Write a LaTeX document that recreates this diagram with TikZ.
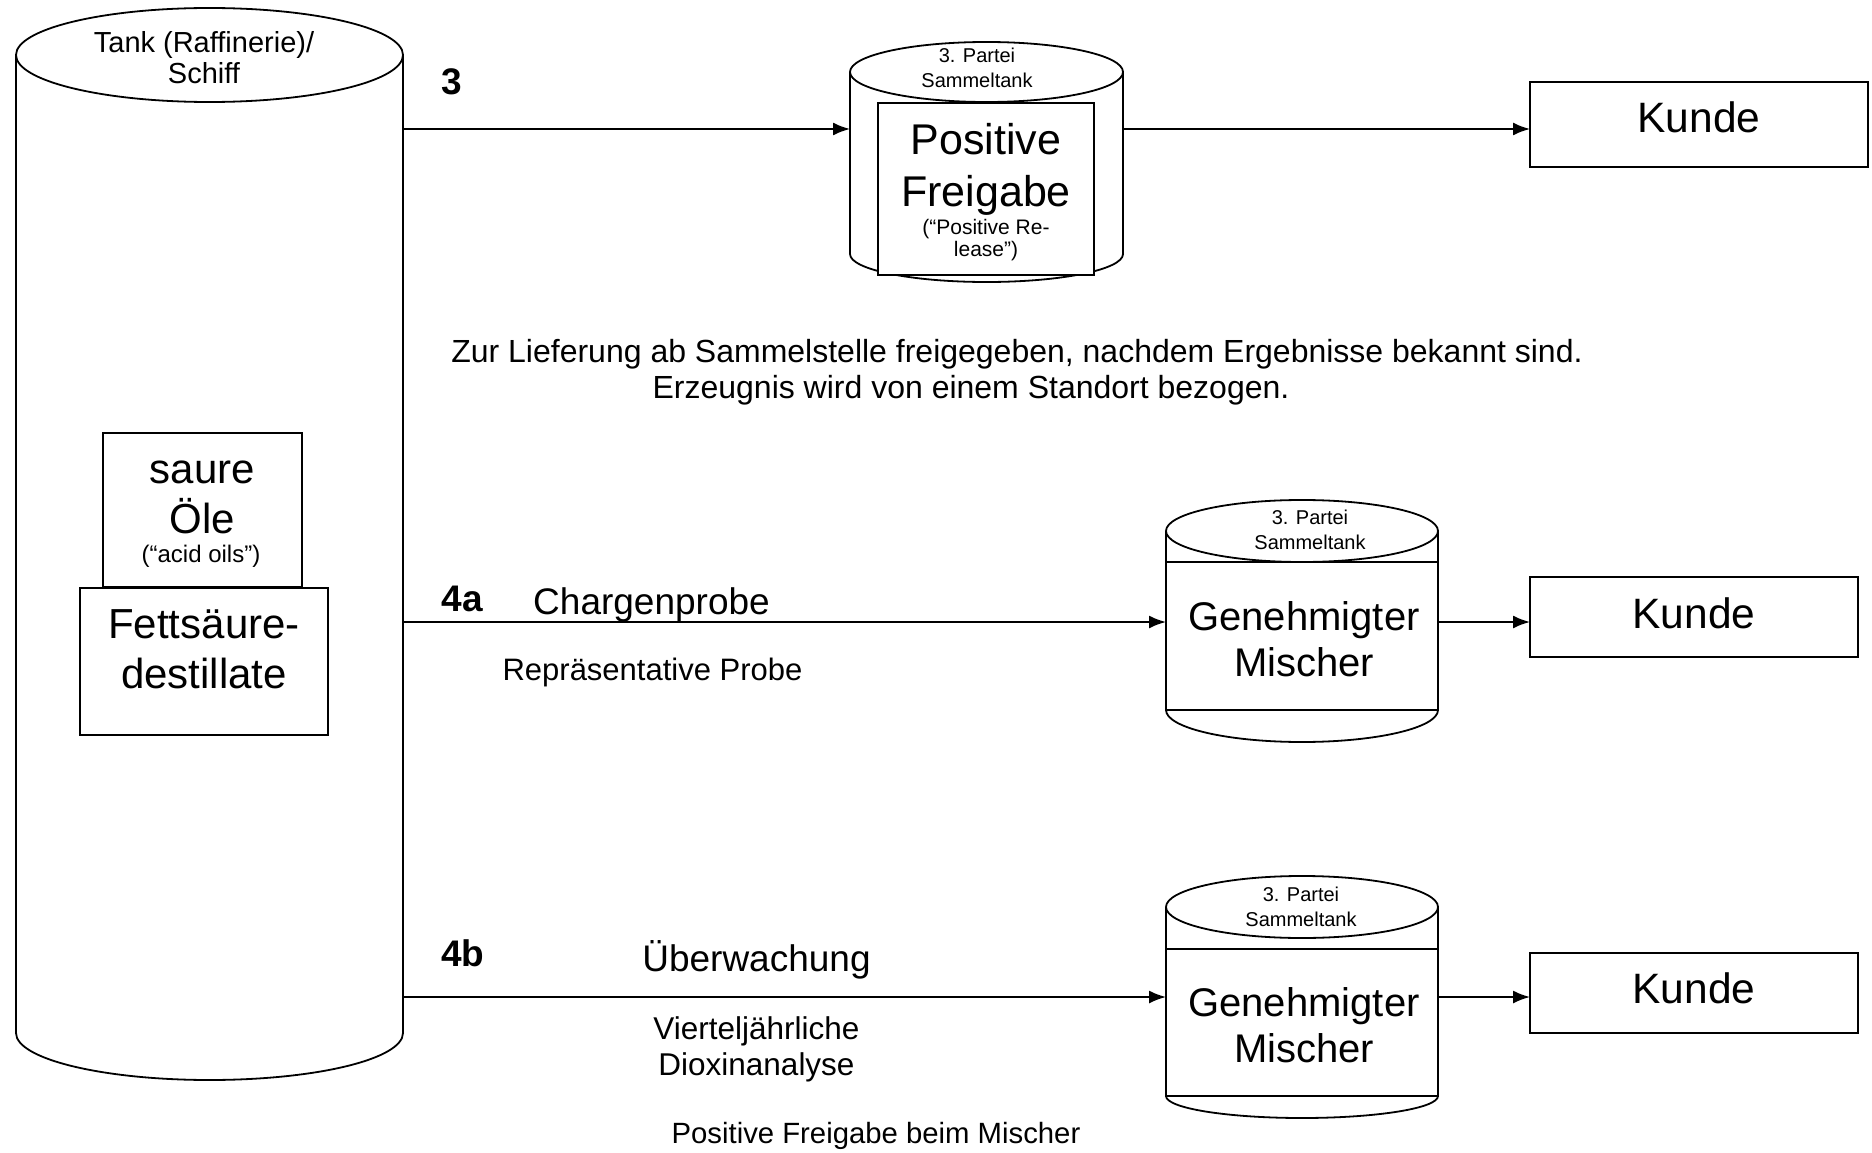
\documentclass[tikz,border=0pt]{standalone}
\usepackage{fontspec}
\setmainfont{Liberation Sans}
\usetikzlibrary{positioning,arrows.meta}
\tikzset{>={Latex[length=17pt,width=13pt]}}
\tikzset{
  body/.style={inner sep=0pt, outer sep=0pt},
  box/.style={draw, fill=white, inner sep=0pt, outer sep=0pt, align=center},
  txt/.style={inner sep=0pt, align=center},
  kunde/.style={box, minimum width=328, minimum height=80, font=\setfs{42.5}{48}, text height=30pt},
}
\newcommand{\setfs}[2]{\fontsize{#1}{#2}\selectfont}

\begin{document}
\begin{tikzpicture}[x=1pt, y=-1pt, line width=1.8pt]
  \useasboundingbox (0,0) rectangle (1872,1153);
  % grosser Tank
  \node[body, minimum width=387, minimum height=978] (tank) at (209.5,544) {};
  \draw (tank.north west) -- (tank.south west) arc[start angle=180, end angle=360, x radius=193.5pt, y radius=47pt] -- (tank.north east);
  \draw (tank.north) ellipse[x radius=193.5pt, y radius=47pt];
  \node[txt, font=\setfs{29}{31}] (tanktxt) at (204,57.5) {Tank (Raffinerie)/\\Schiff};
  \node[box, minimum width=199, minimum height=154] (acid) at (202.5,510) {};
  \node[txt, font=\setfs{42}{50}] (acidtxt) at (202.5,497) {saure\\Öle};
  \node[txt, font=\setfs{24}{26}] (acideng) at (201,556) {(“acid oils”)};
  \node[box, minimum width=248, minimum height=147] (fatty) at (204,661.5) {};
  \node[txt, font=\setfs{42}{50}] (fattytxt) at (204,649) {Fettsäure-\\destillate};

  \coordinate (row1) at (0,129);
  \coordinate (row2) at (0,622);
  \coordinate (row3) at (0,997);

  % Weg 3
  \node[body, minimum width=273, minimum height=182] (store) at (986.5,163) {};
  \draw (store.north west) -- (store.south west) arc[start angle=180, end angle=360, x radius=136.5pt, y radius=28pt] -- (store.north east);
  \draw (store.north) ellipse[x radius=136.5pt, y radius=30pt];
  \node[txt, font=\setfs{20}{25}] (storetxt) at (977,67.5) {3. Partei\\Sammeltank};
  \node[box, minimum width=216, minimum height=172] (release) at (986,189) {};
  \node[txt, font=\setfs{43}{52}] (releasetxt) at (986,169) {Positive\\Freigabe};
  \node[txt, font=\setfs{21}{22}] (releaseeng) at (986,240) {(“Positive Re-\\lease”)};
  \node[kunde, minimum width=338, minimum height=85, text depth=14pt] (kunde1) at (1699,124.5) {Kunde};
  \node[txt, font=\bfseries\setfs{37}{40}] (lbl3) at (452,82) {3};
  \draw[->] (tank.east |- row1) -- (store.west |- row1);
  \draw[->] (store.east |- row1) -- (kunde1.west |- row1);
  \node[txt, font=\setfs{32}{36}] (note1) at (1017,354) {Zur Lieferung ab Sammelstelle freigegeben, nachdem Ergebnisse bekannt sind.};
  \node[txt, font=\setfs{32}{36}] (note2) at (971,390) {Erzeugnis wird von einem Standort bezogen.};

  % Weg 4a
  \node[body, minimum width=272, minimum height=179] (mixtank1) at (1302,620.5) {};
  \draw (mixtank1.north west) -- (mixtank1.south west) arc[start angle=180, end angle=360, x radius=136pt, y radius=32pt] -- (mixtank1.north east);
  \draw (mixtank1.north) ellipse[x radius=136pt, y radius=31pt];
  \node[txt, font=\setfs{20}{25}] (mixtank1txt) at (1310,530) {3. Partei\\Sammeltank};
  \node[box, minimum width=272, minimum height=148] (mixer1) at (1302,636) {};
  \node[txt, font=\setfs{40}{46}] (mixer1txt) at (1304,639) {Genehmigter\\Mischer};
  \node[kunde, text depth=7pt] (kunde2) at (1694,617) {Kunde};
  \node[txt, font=\bfseries\setfs{37}{40}] (lbl4a) at (462.5,598.5) {4a};
  \node[txt, font=\setfs{37}{40}] (batch) at (651.5,605) {Chargenprobe};
  \node[txt, font=\setfs{31}{36}] (sample) at (652.5,672) {Repräsentative Probe};
  \draw[->] (tank.east |- row2) -- (mixtank1.west |- row2);
  \draw[->] (mixer1.east |- row2) -- (kunde2.west |- row2);

  % Weg 4b
  \node[body, minimum width=272, minimum height=189] (mixtank2) at (1302,1001.5) {};
  \draw (mixtank2.north west) -- (mixtank2.south west) arc[start angle=180, end angle=360, x radius=136pt, y radius=22pt] -- (mixtank2.north east);
  \draw (mixtank2.north) ellipse[x radius=136pt, y radius=31pt];
  \node[txt, font=\setfs{20}{25}] (mixtank2txt) at (1301,907) {3. Partei\\Sammeltank};
  \node[box, minimum width=272, minimum height=147] (mixer2) at (1302,1022.5) {};
  \node[txt, font=\setfs{40}{46}] (mixer2txt) at (1304,1025) {Genehmigter\\Mischer};
  \node[kunde, text depth=9pt] (kunde3) at (1694,993) {Kunde};
  \node[txt, font=\bfseries\setfs{37}{40}] (lbl4b) at (463,953) {4b};
  \node[txt, font=\setfs{37}{40}] (monitor) at (756.5,960) {Überwachung};
  \node[txt, font=\setfs{31.5}{36}] (dioxin) at (756.5,1049) {Vierteljährliche\\Dioxinanalyse};
  \node[txt, font=\setfs{29.3}{34}] (note3) at (876,1136) {Positive Freigabe beim Mischer};
  \draw[->] (tank.east |- row3) -- (mixtank2.west |- row3);
  \draw[->] (mixer2.east |- row3) -- (kunde3.west |- row3);
\end{tikzpicture}
\end{document}
